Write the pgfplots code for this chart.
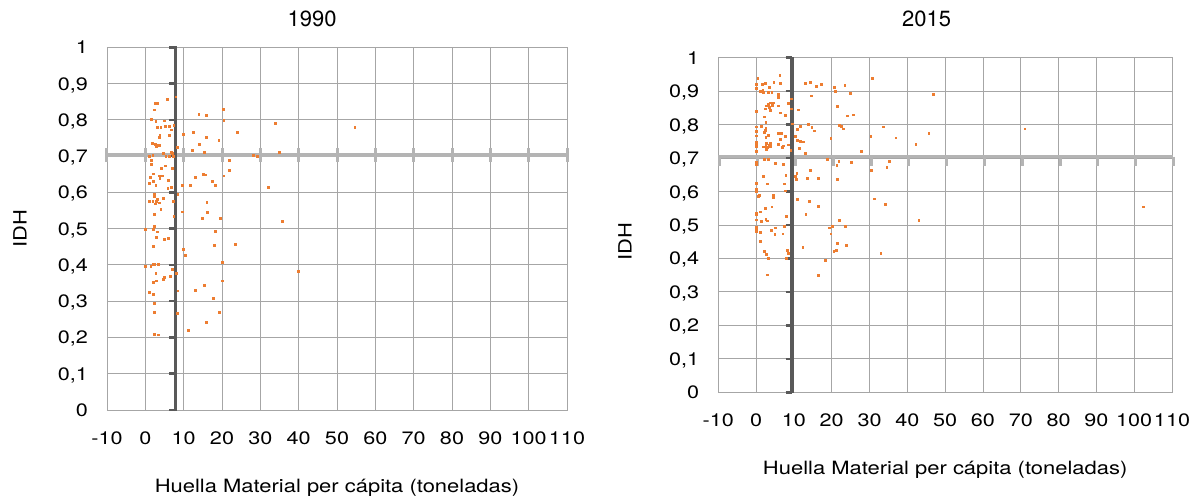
\documentclass[border=0pt]{standalone}
\usepackage{fontspec}
\setmainfont{TeX Gyre Heros}[FakeStretch=1.2]
\newfontfamily\titlefont{TeX Gyre Heros}
\usepackage{pgfplots}
\pgfplotsset{compat=1.18}
\definecolor{gridgray}{HTML}{A6A6A6}
\definecolor{hline}{HTML}{B4B4B4}
\definecolor{vline}{HTML}{595959}
\definecolor{ptorange}{HTML}{ED7D31}
\newcommand{\fs}{\fontsize{18}{21}\selectfont}
\newcommand{\fl}{\fontsize{18.3}{21}\selectfont}
\newcommand{\ft}{\titlefont\fontsize{22}{25}\selectfont}
\pgfplotsset{
  idhaxis/.style={
    scale only axis,
    anchor=south west,
    xmin=-10, xmax=110, ymin=0, ymax=1,
    xtick={-10,0,10,20,30,40,50,60,70,80,90,100,110},
    ytick={0,0.1,0.2,0.3,0.4,0.5,0.6,0.7,0.8,0.9,1},
    grid=major,
    major grid style={color=gridgray, line width=0.9pt},
    axis line style={color=gridgray, line width=0.9pt},
    major tick length=0pt,
    clip=false,
    /pgf/number format/assume math mode=true,
    yticklabel style={/pgf/number format/use comma, /pgf/number format/fixed, /pgf/number format/precision=1},
    tick label style={font=\fs, inner sep=0pt},
    typeset ticklabels with strut,
    label style={font=\fl},
    title style={font=\ft, inner sep=0pt},
    xlabel={Huella Material per cápita (toneladas)},
    ylabel={IDH},
  },
  pts/.style={only marks, mark=square*, mark size=0.9pt, color=ptorange, mark options={draw=ptorange, fill=ptorange, line width=0.2pt}},
}
\begin{document}
\begin{tikzpicture}
\path[use as bounding box] (0,0) rectangle (1189pt,502pt);
% ---------------- 1990 ----------------
\begin{axis}[idhaxis,
  at={(107pt,92pt)}, width=460pt, height=362.7pt,
  title={1990},
  title style={at={(axis description cs:0.4457,1)}, anchor=center, yshift=22.8pt},
  xlabel style={at={(axis description cs:0.5,0)}, anchor=center, yshift=-78pt},
  ylabel style={at={(axis description cs:-0.189,0.5)}, anchor=center},
  xticklabel style={anchor=base, yshift=-34.5pt},
  yticklabel style={anchor=base east, xshift=-19pt, yshift=-6.5pt},
]
\addplot[pts] table {
x y
5.6 0.858
2.6 0.847
3.2 0.847
7.9 0.864
2.3 0.828
13.9 0.816
15.9 0.812
20.3 0.829
1.6 0.803
2.7 0.796
5.0 0.798
20.4 0.800
33.8 0.792
3.0 0.781
4.0 0.779
5.1 0.782
6.2 0.783
7.4 0.785
6.7 0.773
12.4 0.767
24.0 0.766
3.7 0.759
3.5 0.753
6.3 0.758
9.9 0.760
15.9 0.753
19.1 0.744
14.0 0.732
1.7 0.736
2.5 0.733
2.9 0.731
3.5 0.731
2.8 0.726
8.2 0.725
12.3 0.717
15.3 0.710
34.8 0.712
6.7 0.711
7.0 0.709
4.7 0.709
1.9 0.703
1.0 0.700
5.3 0.699
6.3 0.700
7.3 0.699
28.2 0.703
29.1 0.699
21.9 0.688
1.5 0.690
1.5 0.679
4.1 0.668
5.1 0.674
7.0 0.668
21.8 0.661
2.0 0.652
1.2 0.642
3.5 0.646
4.3 0.646
3.7 0.640
13.0 0.642
15.0 0.651
15.7 0.649
20.4 0.646
2.1 0.632
5.9 0.634
0.9 0.625
2.7 0.619
5.8 0.611
6.8 0.614
17.4 0.632
9.6 0.619
11.7 0.620
18.3 0.619
32.1 0.614
8.4 0.596
2.3 0.595
2.3 0.590
4.7 0.585
1.0 0.576
1.9 0.576
3.0 0.581
2.9 0.575
3.6 0.572
2.6 0.569
7.3 0.577
16.0 0.574
4.0 0.554
2.3 0.540
16.2 0.546
9.5 0.547
7.4 0.534
14.9 0.528
19.4 0.528
35.6 0.520
2.3 0.506
2.0 0.498
0.0 0.498
3.1 0.492
18.2 0.494
2.9 0.476
4.9 0.472
6.0 0.475
2.0 0.452
17.9 0.454
23.4 0.458
9.9 0.443
10.3 0.426
1.9 0.403
2.3 0.403
3.3 0.403
0.0 0.397
1.4 0.396
20.1 0.407
7.0 0.388
8.0 0.377
2.7 0.377
6.4 0.369
4.8 0.367
4.7 0.360
2.8 0.357
2.1 0.352
20.1 0.357
15.3 0.344
13.0 0.331
8.4 0.329
0.9 0.324
2.1 0.319
17.6 0.308
2.3 0.294
2.3 0.271
8.3 0.268
19.3 0.269
15.9 0.243
11.2 0.221
2.3 0.210
3.3 0.208
54.6 0.780
39.9 0.384
};
% horizontal threshold line (IDH 0,7)
\addplot[hline, line width=3.5pt] coordinates {(-10.3,0.703) (110,0.703)};
\pgfplotsinvokeforeach{-10,0,10,20,30,40,50,60,70,80,90,100,110}{
  \draw[hline, line width=3pt] ([yshift=-7pt]axis cs:#1,0.703) -- ([yshift=7pt]axis cs:#1,0.703);
}
% vertical threshold line
\addplot[vline, line width=3.2pt] coordinates {(7.9,-0.003) (7.9,1.003)};
\pgfplotsinvokeforeach{0,0.1,0.2,0.3,0.4,0.5,0.6,0.7,0.8,0.9,1}{
  \draw[vline, line width=2.6pt] ([xshift=-6.5pt]axis cs:7.9,#1) -- (axis cs:7.9,#1);
}
\end{axis}
% ---------------- 2015 ----------------
\begin{axis}[idhaxis,
  at={(718.3pt,109.7pt)}, width=453.7pt, height=334.6pt,
  title={2015},
  title style={at={(axis description cs:0.459,1)}, anchor=center, yshift=33.2pt},
  xlabel style={at={(axis description cs:0.5,0)}, anchor=center, yshift=-77.7pt},
  ylabel style={at={(axis description cs:-0.206,0.45)}, anchor=center},
  xticklabel style={anchor=base, yshift=-34pt},
  yticklabel style={anchor=base east, xshift=-19pt, yshift=-6.5pt},
]
\addplot[pts] table {
x y
0.4 0.939
6.2 0.949
1.5 0.920
2.4 0.925
3.4 0.913
4.6 0.926
6.4 0.923
12.9 0.925
14.2 0.926
15.8 0.915
17.2 0.920
20.7 0.912
20.9 0.900
23.4 0.917
30.6 0.939
24.8 0.895
0.0 0.920
0.0 0.908
1.1 0.900
1.7 0.902
1.9 0.897
3.2 0.896
4.1 0.896
5.9 0.892
5.8 0.882
14.6 0.887
9.3 0.878
46.9 0.891
0.1 0.841
3.8 0.866
4.4 0.866
3.2 0.861
4.2 0.858
3.5 0.853
2.6 0.857
2.4 0.848
5.8 0.857
8.4 0.865
3.6 0.844
6.3 0.836
9.2 0.848
11.1 0.845
21.4 0.855
24.0 0.827
25.6 0.830
7.6 0.828
2.2 0.824
2.5 0.807
9.6 0.803
0.0 0.794
1.3 0.795
2.5 0.790
2.4 0.784
2.2 0.777
11.6 0.795
10.9 0.787
13.8 0.802
14.7 0.792
15.4 0.782
22.0 0.799
22.5 0.795
23.0 0.788
33.5 0.794
71.0 0.788
0.0 0.781
0.0 0.767
5.9 0.775
6.6 0.775
7.6 0.766
6.4 0.756
3.2 0.768
2.5 0.763
10.4 0.765
19.7 0.759
30.3 0.765
36.9 0.761
45.6 0.774
42.2 0.742
10.9 0.754
11.7 0.750
12.5 0.749
0.0 0.749
0.0 0.741
0.0 0.734
0.0 0.721
2.7 0.744
3.4 0.739
3.7 0.744
2.5 0.736
1.9 0.734
3.0 0.733
3.6 0.735
2.6 0.728
5.9 0.741
7.1 0.737
8.4 0.740
6.8 0.732
11.3 0.730
9.1 0.723
13.0 0.716
27.7 0.722
18.8 0.697
0.0 0.689
0.0 0.681
2.2 0.696
3.1 0.696
5.1 0.684
7.2 0.681
21.8 0.692
21.3 0.678
25.1 0.689
30.5 0.665
34.5 0.673
35.2 0.690
10.7 0.656
14.2 0.663
1.8 0.647
7.8 0.649
10.3 0.647
10.5 0.638
13.4 0.640
16.5 0.640
21.4 0.637
2.8 0.624
7.5 0.624
0.0 0.626
0.0 0.607
0.0 0.600
0.8 0.590
0.6 0.586
4.4 0.591
4.4 0.584
7.6 0.603
10.8 0.578
14.0 0.572
16.4 0.556
13.1 0.533
22.0 0.514
31.2 0.579
34.2 0.563
43.0 0.515
102.4 0.555
32.9 0.417
0.0 0.535
0.0 0.531
0.0 0.516
2.4 0.550
4.1 0.555
1.0 0.540
2.5 0.518
2.9 0.513
1.3 0.511
7.9 0.526
0.0 0.493
0.0 0.487
0.0 0.481
3.9 0.485
5.1 0.492
1.0 0.479
4.9 0.473
7.0 0.474
7.4 0.497
19.2 0.492
20.2 0.496
23.6 0.497
19.7 0.474
1.0 0.452
8.1 0.426
8.5 0.417
12.3 0.434
21.5 0.447
23.7 0.441
20.5 0.422
21.2 0.425
2.2 0.421
2.6 0.414
3.2 0.402
7.9 0.401
18.3 0.396
2.9 0.352
16.4 0.351
};
\addplot[hline, line width=3.5pt] coordinates {(-10,0.704) (110.2,0.704)};
\pgfplotsinvokeforeach{-10,0,10,20,30,40,50,60,70,80,90,100,110}{
  \draw[hline, line width=3pt] ([xshift=1.5pt]axis cs:#1,0.704) -- ([xshift=1.5pt,yshift=-9pt]axis cs:#1,0.704);
}
\addplot[vline, line width=3.2pt] coordinates {(9.5,-0.003) (9.5,1.003)};
\pgfplotsinvokeforeach{0,0.1,0.2,0.3,0.4,0.5,0.6,0.7,0.8,0.9,1}{
  \draw[vline, line width=2.6pt] ([xshift=-6.5pt]axis cs:9.5,#1) -- (axis cs:9.5,#1);
}
\end{axis}
\end{tikzpicture}
\end{document}
